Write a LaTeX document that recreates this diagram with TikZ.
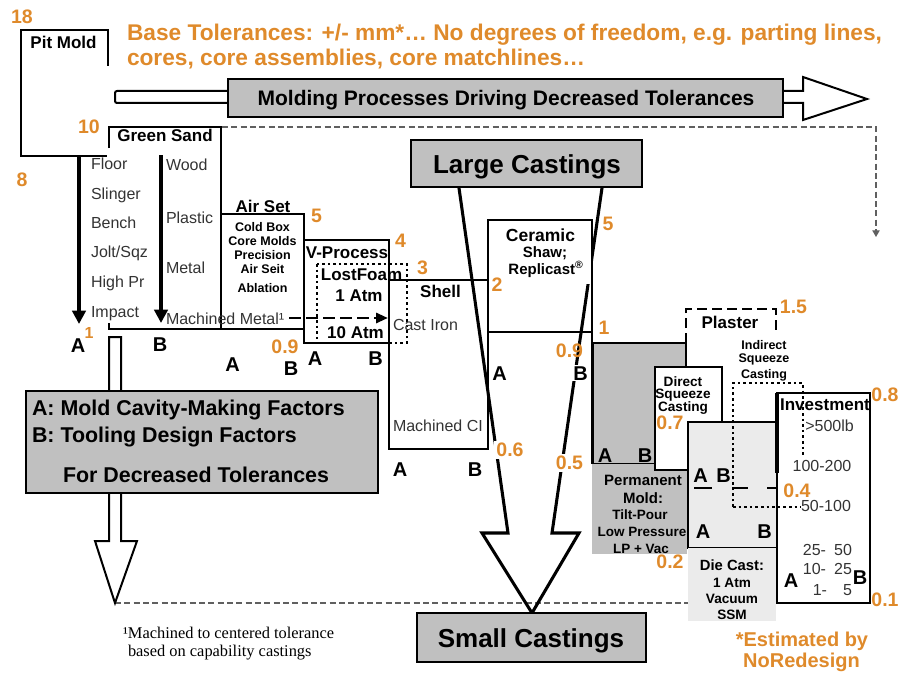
\documentclass[tikz,border=0pt]{standalone}
\usepackage{fontspec}
\setmainfont{Liberation Sans}
\newfontfamily\footserif{Liberation Serif}
\usetikzlibrary{arrows.meta}
\definecolor{orng}{HTML}{DF8A2B}
\definecolor{boxgray}{HTML}{C0C0C0}
\definecolor{lightgraytwo}{HTML}{EBEBEB}
\definecolor{txtgray}{HTML}{333333}
\definecolor{dashgray}{HTML}{606060}
\newcommand\fpx[1]{\fontsize{\fpeval{0.75*(#1)}pt}{\fpeval{0.9*(#1)}pt}\selectfont}
\begin{document}
\begin{tikzpicture}[x=0.75pt,y=-0.75pt,
  every node/.style={inner sep=0pt, outer sep=0pt},
  bx/.style={draw=black, line width=1.5pt},
  lbl/.style={font=\bfseries\fpx{17}, anchor=base},
  itm/.style={font=\fpx{16}, text=txtgray, anchor=base west},
  ab/.style={font=\bfseries\fpx{20}, anchor=base},
  num/.style={font=\bfseries\fpx{19.5}, text=orng},
  guide/.style={draw=dashgray, line width=0.9pt, dash pattern=on 4.5pt off 2.5pt},
  dotbox/.style={draw=black, line width=1.3pt, dash pattern=on 2pt off 2.2pt},
  bigarrow/.style={line width=3.4pt, -{Triangle[width=10pt,length=10pt]}},
  whitebg/.style={fill=white, inner sep=1.5pt},
]
\useasboundingbox (0,0) rectangle (900,674);

% guide lines
\coordinate (g1) at (222,127); \coordinate (g2) at (876,127); \coordinate (g3) at (876,237);
\draw[guide, -{Triangle[width=5.5pt,length=5pt]}] (g1) -- (g2) -- (g3);
\coordinate (b1) at (115,603); \coordinate (b2) at (688,603);
\draw[guide] (b1) -- (b2);

% Pit mold
\draw[bx] (108,66) -- (108,30) -- (21,30) -- (21,156) -- (107,156);
\node[lbl] (pit) at (63.5,49) {Pit Mold};

% header
\node[anchor=base west, font=\bfseries\fpx{22.7}, text=orng] (hdr1) at (127,41) {Base Tolerances: +/- mm*… No degrees of freedom, e.g. parting lines,};
\node[anchor=base west, font=\bfseries\fpx{22.7}, text=orng] (hdr2) at (127,65) {cores, core assemblies, core matchlines…};

% molding processes arrow
\draw[line width=1.5pt, fill=white, rounded corners=1.5pt] (115,91) rectangle (232,103);
\draw[line width=1.5pt, fill=white] (781,91) -- (803,91) -- (803,77) -- (867,99) -- (803,120) -- (803,103) -- (781,103);
\draw[line width=1.8pt, fill=boxgray] (228,79) rectangle (783,117);
\node[anchor=base, font=\bfseries\fpx{21}] (mold) at (506,106) {Molding Processes Driving Decreased Tolerances};

% process boxes
\draw[bx] (109,148) -- (109,127) -- (221,127) -- (221,329) -- (109,329) -- (109,323);
\draw[bx] (221,214) rectangle (304,329);
\draw[bx] (304,240) rectangle (389,343);
\draw[bx] (389,280) rectangle (488,449);
\draw[bx] (488,220) rectangle (592,332);
\draw[bx] (592,332) -- (592,464);
\draw[bx, fill=boxgray] (593,343) rectangle (686,464);
\fill[boxgray] (592,464) rectangle (687,554);
\draw[line width=2pt, dash pattern=on 7.5pt off 3.75pt] (686,343) -- (686,309) -- (776,309) -- (776,332);
\draw[bx, fill=white] (655,367) rectangle (722,470);
\draw[bx, fill=lightgraytwo] (688,422) rectangle (777,548);
\fill[lightgraytwo] (688,548) rectangle (776,621);
\draw[bx] (777,393) rectangle (870,603);
\draw[line width=2.4pt] (777,393) -- (777,473);
\draw[line width=2.2pt] (694,488) -- (712,488) (732,488) -- (748,488) (767,488) -- (777,488);
\draw[dotbox] (733,507) -- (733,383) -- (803,383) -- (803,455);
\draw[dotbox] (733,507) -- (801,507);
\draw[dotbox] (317,264) rectangle (407,343);

% funnel arrow
\draw[line width=2.3pt, line join=miter] (459,188) -- (508,533) -- (482,533) -- (532,613) -- (579,533) -- (552,533) -- (602,188);
\fill[white] (583,253) rectangle (590.6,284);
\draw[line width=2pt, fill=boxgray] (411,140) rectangle (642,187);
\node[anchor=base, font=\bfseries\fpx{26}] (large) at (527,173) {Large Castings};
\draw[line width=2pt, fill=boxgray] (417,613) rectangle (646,662);
\node[anchor=base, font=\bfseries\fpx{26}] (small) at (531,647) {Small Castings};

% left hollow arrow and legend box
\draw[line width=1.5pt, fill=white] (109,337) -- (121,337) -- (121,541) -- (137,541) -- (115,603) -- (95,541) -- (109,541) -- cycle;
\draw[line width=2pt, fill=boxgray] (26,391) rectangle (378,493);
\node[anchor=base west, font=\bfseries\fpx{21.4}] (legA) at (32,415) {A: Mold Cavity-Making Factors};
\node[anchor=base west, font=\bfseries\fpx{21.4}] (legB) at (32,442) {B: Tooling Design Factors};
\node[anchor=base west, font=\bfseries\fpx{21.4}] (legC) at (63,482) {For Decreased Tolerances};

% footnote
\node[anchor=base west, font=\footserif\fpx{16.4}] (fn1) at (123,638) {¹Machined to centered tolerance};
\node[anchor=base west, font=\footserif\fpx{16.4}] (fn2) at (128,656) {based on capability castings};

% black arrows
\coordinate (a1s) at (79,157); \coordinate (a1e) at (79,324);
\coordinate (a2s) at (161,155); \coordinate (a2e) at (161,323);
\draw[bigarrow] (a1s) -- (a1e);
\draw[bigarrow] (a2s) -- (a2e);
\coordinate (d1s) at (289,318); \coordinate (d1e) at (388,318);
\draw[line width=2.2pt, dash pattern=on 9pt off 3.75pt, -{Triangle[width=7.5pt,length=9pt]}] (d1s) -- (d1e);

% green sand texts
\node[lbl] (green) at (165,142) {Green Sand};
\node[itm] (floor) at (91,169) {Floor};
\node[itm] (slinger) at (91,199) {Slinger};
\node[itm] (bench) at (91,228) {Bench};
\node[itm] (jolt) at (91,257) {Jolt/Sqz};
\node[itm] (highpr) at (91,287) {High Pr};
\node[itm] (impact) at (91,317) {Impact};
\node[itm] (wood) at (166,170) {Wood};
\node[itm] (plastic) at (166,223) {Plastic};
\node[itm] (metal) at (166,273) {Metal};
\node[itm] (machm) at (166,324) {Machined Metal¹};

% air set
\node[lbl] (airset) at (263,212) {Air Set};
\node[anchor=base, font=\bfseries\fpx{12.5}] (cb) at (262.5,231) {Cold Box};
\node[anchor=base, font=\bfseries\fpx{12.5}] (cm) at (262.5,245.5) {Core Molds};
\node[anchor=base, font=\bfseries\fpx{12.5}] (pr) at (262.5,259) {Precision};
\node[anchor=base, font=\bfseries\fpx{12.5}] (as) at (262.5,273) {Air Seit};
\node[anchor=base, font=\bfseries\fpx{12.5}] (ab) at (262.5,292.7) {Ablation};

% v-process / lost foam
\node[lbl] (vproc) at (347,258) {V-Process};
\node[lbl] (lostfoam) at (361.5,280) {LostFoam};
\node[lbl] (atm1) at (359,301.7) {1 Atm};
\node[lbl] (atm10) at (355.5,338) {10 Atm};

% shell
\node[lbl] (shell) at (440.5,297.7) {Shell};
\node[itm] (castiron) at (393,330) {Cast Iron};
\node[itm] (machci) at (393,431.7) {Machined CI};

% ceramic
\node[anchor=base, font=\bfseries\fpx{17.5}] (ceramic) at (540.5,241) {Ceramic};
\node[anchor=base, font=\bfseries\fpx{15}] (shaw) at (545,257) {Shaw;};
\node[anchor=base, font=\bfseries\fpx{15}] (repl) at (546,274) {Replicast\textsuperscript{®}};

% permanent mold
\node[anchor=base, font=\bfseries\fpx{15}] (perm1) at (643,485) {Permanent};
\node[anchor=base, font=\bfseries\fpx{15}] (perm2) at (643,503) {Mold:};
\node[anchor=base, font=\bfseries\fpx{13.5}] (perm3) at (640,519) {Tilt-Pour};
\node[anchor=base, font=\bfseries\fpx{13.5}] (perm4) at (642,536) {Low Pressure};
\node[anchor=base, font=\bfseries\fpx{13.5}] (perm5) at (641,553) {LP + Vac};

% plaster / squeeze
\node[lbl] (plaster) at (730,328) {Plaster};
\node[anchor=base, font=\bfseries\fpx{12.5}] (ind1) at (764,349) {Indirect};
\node[anchor=base, font=\bfseries\fpx{12.5}] (ind2) at (764,362) {Squeeze};
\node[anchor=base, font=\bfseries\fpx{12.5}] (ind3) at (764,378) {Casting};
\node[anchor=base, font=\bfseries\fpx{13.6}] (dir1) at (683,386) {Direct};
\node[anchor=base, font=\bfseries\fpx{13.6}] (dir2) at (683,398) {Squeeze};
\node[anchor=base, font=\bfseries\fpx{13.6}] (dir3) at (683,411) {Casting};

% die cast
\node[anchor=base, font=\bfseries\fpx{14.8}] (die1) at (732,570) {Die Cast:};
\node[anchor=base, font=\bfseries\fpx{13.6}] (die2) at (732,587) {1 Atm};
\node[anchor=base, font=\bfseries\fpx{13.6}] (die3) at (732,603) {Vacuum};
\node[anchor=base, font=\bfseries\fpx{13.6}] (die4) at (732,619) {SSM};

% investment
\node[lbl] (invest) at (825,410.7) {Investment};
\node[anchor=base, font=\fpx{16}, text=txtgray] (w1) at (829.5,431.7) {>500lb};
\node[anchor=base, font=\fpx{16}, text=txtgray] (w2) at (822,471.7) {100-200};
\node[anchor=base, font=\fpx{16}, text=txtgray] (w3) at (826,511.7) {50-100};
\node[anchor=base east, font=\fpx{16}, text=txtgray] (w4a) at (826,555) {25-};
\node[anchor=base east, font=\fpx{16}, text=txtgray] (w4b) at (852,555) {50};
\node[anchor=base east, font=\fpx{16}, text=txtgray] (w5a) at (826,574) {10-};
\node[anchor=base east, font=\fpx{16}, text=txtgray] (w5b) at (852,574) {25};
\node[anchor=base east, font=\fpx{16}, text=txtgray] (w6a) at (827,595) {1-};
\node[anchor=base east, font=\fpx{16}, text=txtgray] (w6b) at (852,595) {5};

% A/B letters
\node[ab] (A1) at (78,352) {A};
\node[ab] (B1) at (160,351) {B};
\node[ab] (A2) at (232.5,371.7) {A};
\node[ab] (B2) at (291,375) {B};
\node[ab] (A3) at (315,365) {A};
\node[ab] (B3) at (375.5,365) {B};
\node[ab] (A4) at (400,476.7) {A};
\node[ab] (B4) at (475,476.7) {B};
\node[ab] (A5) at (499.5,380) {A};
\node[ab, whitebg, inner sep=0.8pt] (B5) at (580.5,380) {B};
\node[ab] (A6) at (605,462) {A};
\node[ab] (B6) at (645,462) {B};
\node[ab] (A7) at (700.5,482) {A};
\node[ab] (B7) at (723.5,482) {B};
\node[ab] (A8) at (703,538) {A};
\node[ab] (B8) at (764.5,538) {B};
\node[ab] (A9) at (791,587) {A};
\node[ab] (B9) at (860,584) {B};

% orange numbers
\node[num] (n18) at (22,16.5) {18};
\node[num] (n10) at (89,127) {10};
\node[num] (n8) at (22,180) {8};
\node[num, font=\bfseries\fpx{16}] (nsup) at (89,333) {1};
\node[num] (n5a) at (316.5,216) {5};
\node[num] (n4) at (400.5,241) {4};
\node[num] (n3) at (422.5,268) {3};
\node[num] (n09a) at (285,346.5) {0.9};
\node[num] (n2) at (497,285) {2};
\node[num] (n5b) at (608,224) {5};
\node[num] (n1b) at (604,328) {1};
\node[num] (n09b) at (569.5,350.5) {0.9};
\node[num, whitebg] (n06) at (510,450) {0.6};
\node[num, whitebg] (n05) at (569.5,463) {0.5};
\node[num] (n15) at (793.5,306.5) {1.5};
\node[num] (n07) at (670,423) {0.7};
\node[num] (n08) at (885,395) {0.8};
\node[num, whitebg] (n04) at (797,490.5) {0.4};
\node[num] (n02) at (670,561.5) {0.2};
\node[num] (n01) at (885,600) {0.1};

% estimated
\node[anchor=base, font=\bfseries\fpx{20}, text=orng] (est1) at (802,646) {*Estimated by};
\node[anchor=base, font=\bfseries\fpx{20}, text=orng] (est2) at (801.5,667) {NoRedesign};
\end{tikzpicture}
\end{document}
